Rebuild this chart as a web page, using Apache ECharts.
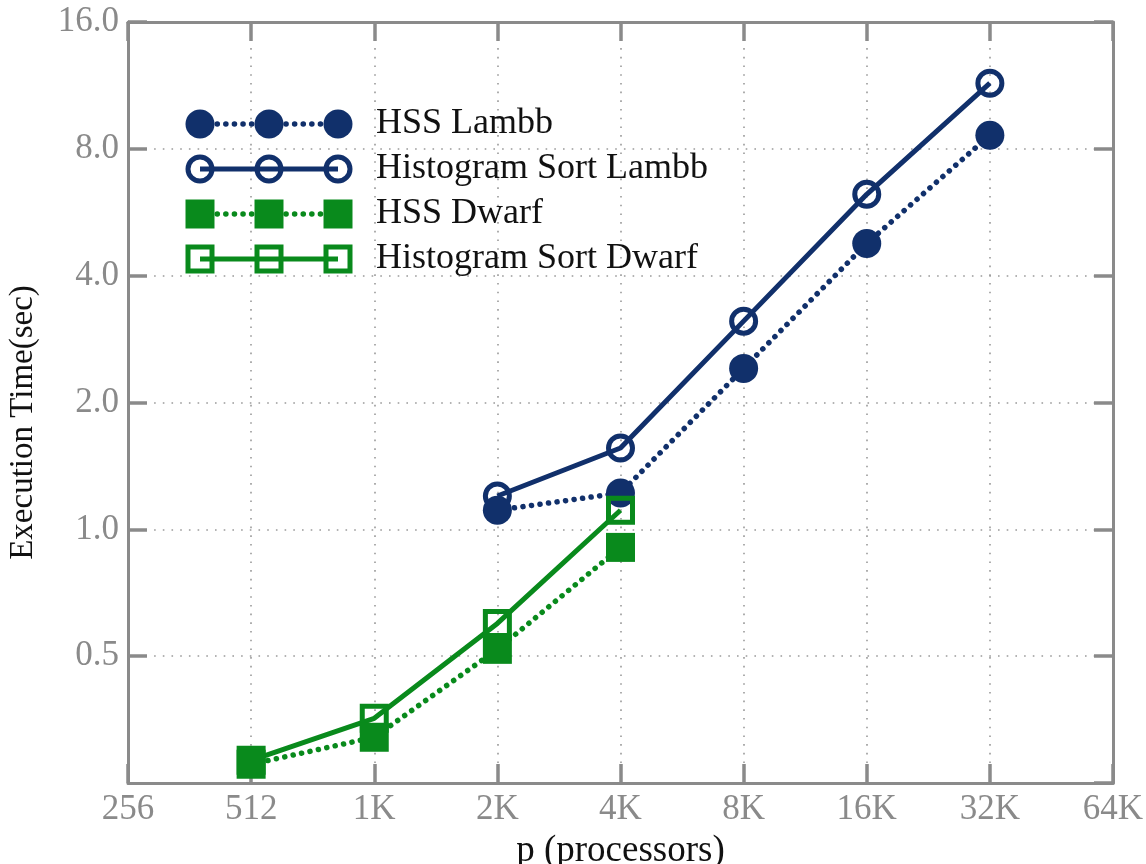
<!DOCTYPE html>
<html>
<head>
<meta charset="utf-8">
<script src="https://cdn.jsdelivr.net/npm/echarts@6/dist/echarts.min.js"></script>
<style>
  html, body { margin: 0; padding: 0; background: #fff; }
  #chart { width: 1146px; height: 864px; }
</style>
</head>
<body>
<div id="chart"></div>
<script>
// Execution time vs. processor count, log2 on both axes
const xTickLabels = ['256', '512', '1K', '2K', '4K', '8K', '16K', '32K', '64K'];
const yTickLabels = ['', '0.5', '1.0', '2.0', '4.0', '8.0', '16.0'];

const lambbProcs = [2048, 4096, 8192, 16384, 32768];
const hssLambb = [1.11, 1.22, 2.41, 4.77, 8.62];
const histLambb = [1.20, 1.56, 3.12, 6.24, 11.45];

const dwarfProcs = [512, 1024, 2048, 4096];
const hssDwarf = [0.277, 0.321, 0.519, 0.906];
const histDwarf = [0.283, 0.356, 0.598, 1.11];

const seriesNames = ['HSS Lambb', 'Histogram Sort Lambb', 'HSS Dwarf', 'Histogram Sort Dwarf'];

const NAVY = '#11306b';
const GREEN = '#098a1c';
const AXIS_GRAY = '#8a8a8a';
const FONT = '"Liberation Serif", "DejaVu Serif", serif';

function pairs(xs, ys) { return xs.map((x, i) => [x, ys[i]]); }

const dotted = { width: 5.5, type: [0.1, 8.5], cap: 'round' };
const solid = { width: 5, type: 'solid' };

function lineSeries(name, xs, ys, color, filled, symbol, z) {
  return {
    name: name,
    type: 'line',
    data: pairs(xs, ys),
    symbol: symbol,
    symbolSize: filled ? 29 : 24,
    z: z,
    lineStyle: Object.assign({ color: color }, filled ? dotted : solid),
    itemStyle: filled
      ? { color: color }
      : { color: 'rgba(255,255,255,0)', borderColor: color, borderWidth: 5 },
    emphasis: { disabled: true },
    silent: true,
    animation: false
  };
}

const logX = {
  type: 'log', logBase: 2, min: 256, max: 65536, interval: 1, splitNumber: 8
};
const logY = {
  type: 'log', logBase: 2, min: 0.25, max: 16, interval: 1, splitNumber: 6
};

const gridDots = { show: true, lineStyle: { color: '#9a9a9a', width: 1.6, type: [1.6, 7.1] } };
const axisLine = { show: true, lineStyle: { color: AXIS_GRAY, width: 3 } };
const axisTick = { show: true, inside: true, length: 19, lineStyle: { color: AXIS_GRAY, width: 3.5 } };

function xLabel(v) {
  const i = Math.round(Math.log2(v)) - 8;
  return xTickLabels[i] !== undefined ? xTickLabels[i] : '';
}
function yLabel(v) {
  const i = Math.round(Math.log2(v)) + 2;
  return yTickLabels[i] !== undefined ? yTickLabels[i] : '';
}

// Legend drawn as rows: marker - line - marker - line - marker, then the name
const legendRows = [
  { color: NAVY, filled: true, shape: 'circle' },
  { color: NAVY, filled: false, shape: 'circle' },
  { color: GREEN, filled: true, shape: 'rect' },
  { color: GREEN, filled: false, shape: 'rect' }
];
const legendMarkX = [200, 269, 338];
const legendY0 = 124, legendDy = 45, legendTextX = 376;

const legendGraphics = [];
legendRows.forEach((row, r) => {
  const cy = legendY0 + r * legendDy;
  legendGraphics.push({
    type: 'line',
    shape: { x1: legendMarkX[0], y1: cy, x2: legendMarkX[2], y2: cy },
    style: row.filled
      ? { stroke: row.color, lineWidth: 5.5, lineDash: [0.1, 8.5], lineCap: 'round' }
      : { stroke: row.color, lineWidth: 5 },
    z: 10
  });
  legendMarkX.forEach(cx => {
    if (row.shape === 'circle') {
      legendGraphics.push({
        type: 'circle',
        shape: { cx: cx, cy: cy, r: row.filled ? 14.5 : 12 },
        style: row.filled
          ? { fill: row.color }
          : { fill: 'rgba(255,255,255,0)', stroke: row.color, lineWidth: 5 },
        z: 11
      });
    } else {
      const s = row.filled ? 29 : 24;
      legendGraphics.push({
        type: 'rect',
        shape: { x: cx - s / 2, y: cy - s / 2, width: s, height: s },
        style: row.filled
          ? { fill: row.color }
          : { fill: 'rgba(255,255,255,0)', stroke: row.color, lineWidth: 5 },
        z: 11
      });
    }
  });
  legendGraphics.push({
    type: 'text',
    x: legendTextX, y: cy,
    style: {
      text: seriesNames[r],
      font: '36px ' + FONT,
      fill: '#111',
      verticalAlign: 'middle'
    },
    z: 11
  });
});

const chart = echarts.init(document.getElementById('chart'), null, { renderer: 'canvas' });

chart.setOption({
  backgroundColor: '#ffffff',
  animation: false,
  grid: {
    left: 128, right: 33, top: 22, bottom: 81,
    containLabel: false, outerBoundsMode: 'none'
  },
  xAxis: [
    Object.assign({}, logX, {
      position: 'bottom',
      name: 'p (processors)',
      nameLocation: 'middle',
      nameGap: 50,
      nameTextStyle: { color: '#111', fontFamily: FONT, fontSize: 37 },
      axisLine: axisLine,
      axisTick: axisTick,
      splitLine: gridDots,
      minorTick: { show: false },
      axisLabel: {
        color: AXIS_GRAY, fontFamily: FONT, fontSize: 35, margin: 9,
        formatter: xLabel
      }
    }),
    Object.assign({}, logX, {
      position: 'top',
      axisLine: axisLine,
      axisTick: axisTick,
      splitLine: { show: false },
      axisLabel: { show: false }
    })
  ],
  yAxis: [
    Object.assign({}, logY, {
      position: 'left',
      name: 'Execution Time(sec)',
      nameLocation: 'middle',
      nameGap: 88,
      nameTextStyle: { color: '#111', fontFamily: FONT, fontSize: 33, padding: [0, 40, 0, 0] },
      axisLine: axisLine,
      axisTick: axisTick,
      splitLine: gridDots,
      axisLabel: {
        color: AXIS_GRAY, fontFamily: FONT, fontSize: 35, margin: 9,
        showMinLabel: false,
        formatter: yLabel
      }
    }),
    Object.assign({}, logY, {
      position: 'right',
      axisLine: axisLine,
      axisTick: axisTick,
      splitLine: { show: false },
      axisLabel: { show: false }
    })
  ],
  series: [
    lineSeries(seriesNames[0], lambbProcs, hssLambb, NAVY, true, 'circle', 3),
    lineSeries(seriesNames[1], lambbProcs, histLambb, NAVY, false, 'circle', 2),
    lineSeries(seriesNames[2], dwarfProcs, hssDwarf, GREEN, true, 'rect', 5),
    lineSeries(seriesNames[3], dwarfProcs, histDwarf, GREEN, false, 'rect', 4)
  ],
  graphic: legendGraphics
});
</script>
</body>
</html>
